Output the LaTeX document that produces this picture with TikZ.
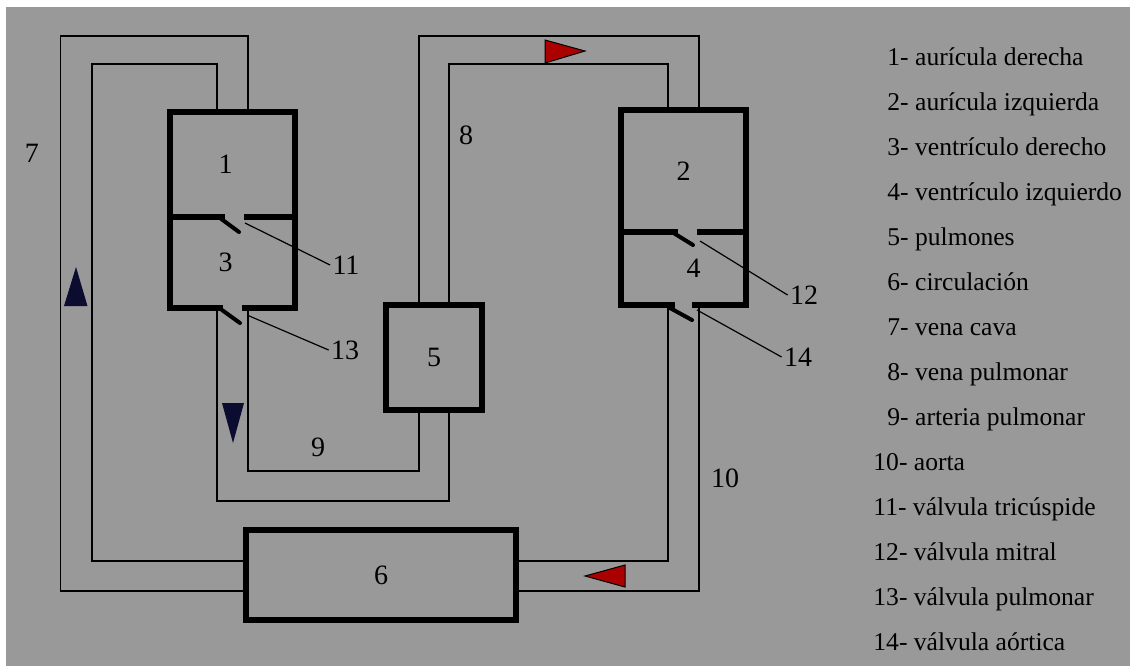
\documentclass[tikz,border=0pt]{standalone}
\usepackage{fontspec}
\setmainfont{Liberation Serif}
\usepackage{xcolor}
\usepackage{tikz}
\usetikzlibrary{calc}

\definecolor{bggray}{RGB}{153,153,153}
\definecolor{flowred}{RGB}{170,0,0}
\definecolor{flowblue}{RGB}{12,12,48}

\begin{document}
\begin{tikzpicture}[
    x=0.5pt, y=-0.5pt,
    font=\fontsize{12.8}{15}\selectfont,
    chamber/.style={draw, line width=2.6pt, inner sep=0pt, outer sep=0pt,
                    font=\fontsize{14}{16}\selectfont},
    pipe/.style={line width=0.6pt},
    flap/.style={line width=2pt, line cap=round},
    lead/.style={line width=0.6pt},
    num/.style={inner sep=1pt, font=\fontsize{14}{16}\selectfont},
    keyitem/.style={anchor=base west, inner sep=0pt},
  ]

  \useasboundingbox (0,0) rectangle (1130,666);
  \fill[white] (0,0) rectangle (1130,666);
  \fill[bggray] (6,7) rectangle (1130,666);

  % chambers, lungs and body
  \node[chamber, minimum width=62.5pt, minimum height=52.5pt] (b1) at (232.5,164.5) {\hspace*{-7pt}1};
  \node[chamber, minimum width=62.5pt, minimum height=45.5pt] (b3) at (232.5,262.5) {\hspace*{-7pt}3};
  \node[chamber, minimum width=62.5pt, minimum height=61pt]   (b2) at (683.5,171) {2};
  \node[chamber, minimum width=62.5pt, minimum height=36.5pt] (b4) at (683.5,268.5) {\hspace*{10pt}4};
  \node[chamber, minimum width=48pt,   minimum height=52.5pt] (b5) at (434,357.5) {5};
  \node[chamber, minimum width=135pt,  minimum height=45pt]   (b6) at (381,575) {6};

  % vena cava
  \draw[pipe] ($(b1.north)+(15.5,0)$) |- (60.7,36) |- ($(b6.west)+(0,16)$);
  \draw[pipe] ($(b1.north)+(-15.5,0)$) |- (92,64) |- ($(b6.west)+(0,-14)$);
  % arteria pulmonar
  \draw[pipe] ($(b3.south)+(-15.5,0)$) |- (449,501) -- ($(b5.south)+(15,0)$);
  \draw[pipe] ($(b3.south)+(15.5,0)$) |- (419,471) -- ($(b5.south)+(-15,0)$);
  % vena pulmonar
  \draw[pipe] ($(b5.north)+(-15,0)$) |- (699,36) -- ($(b2.north)+(15.5,0)$);
  \draw[pipe] ($(b5.north)+(15,0)$) |- (668,64) -- ($(b2.north)+(-15.5,0)$);
  % aorta
  \draw[pipe] ($(b4.south)+(-15.5,0)$) |- ($(b6.east)+(0,-14)$);
  \draw[pipe] ($(b4.south)+(15.5,0)$) |- ($(b6.east)+(0,16)$);

  % valves
  \fill[bggray] (225,213.5) rectangle (244,220.5);
  \fill[bggray] (223,304.5) rectangle (242,311.5);
  \fill[bggray] (678,228.5) rectangle (697,235.5);
  \fill[bggray] (675,301.5) rectangle (692,308.5);
  \draw[flap] (220,218) -- (239,232);
  \draw[flap] (222,310) -- (240,323);
  \draw[flap] (672,232) -- (693,245);
  \draw[flap] (670,308) -- (692,320);
  \coordinate (v11) at (245,223);
  \coordinate (v13) at (247,315);
  \coordinate (v12) at (700,241);
  \coordinate (v14) at (697,310);

  % flow markers
  \fill[flowblue] (64,306) -- (76,267) -- (87.5,306) -- cycle;
  \fill[flowblue] (222,403) -- (244,403) -- (233,443) -- cycle;
  \filldraw[fill=flowred, draw=black, line width=0.5pt] (545,40) -- (585,51) -- (545,63) -- cycle;
  \filldraw[fill=flowred, draw=black, line width=0.5pt] (625,565) -- (585,576) -- (625,587) -- cycle;

  % vessel and valve numbers
  \node[num] (l7)  at (32,153)  {7};
  \node[num] (l8)  at (466,135) {8};
  \node[num] (l9)  at (318,447) {9};
  \node[num] (l10) at (725,478) {10};
  \node[num] (l11) at (346,265) {11};
  \node[num] (l12) at (804,295) {12};
  \node[num] (l13) at (345,350) {13};
  \node[num] (l14) at (798,357) {14};
  \draw[lead] (v11) -- (l11.west);
  \draw[lead] (v13) -- (l13.west);
  \draw[lead] (v12) -- (l12.west);
  \draw[lead] (v14) -- (l14.west);

  % legend
  \node[keyitem] (k1)  at (887,65)  {1- aurícula derecha};
  \node[keyitem] (k2)  at (887,110) {2- aurícula izquierda};
  \node[keyitem] (k3)  at (887,155) {3- ventrículo derecho};
  \node[keyitem] (k4)  at (887,200) {4- ventrículo izquierdo};
  \node[keyitem] (k5)  at (887,245) {5- pulmones};
  \node[keyitem] (k6)  at (887,290) {6- circulación};
  \node[keyitem] (k7)  at (887,335) {7- vena cava};
  \node[keyitem] (k8)  at (887,380) {8- vena pulmonar};
  \node[keyitem] (k9)  at (887,425) {9- arteria pulmonar};
  \node[keyitem] (k10) at (873,470) {10- aorta};
  \node[keyitem] (k11) at (873,515) {11- válvula tricúspide};
  \node[keyitem] (k12) at (873,560) {12- válvula mitral};
  \node[keyitem] (k13) at (873,605) {13- válvula pulmonar};
  \node[keyitem] (k14) at (873,650) {14- válvula aórtica};
\end{tikzpicture}
\end{document}
